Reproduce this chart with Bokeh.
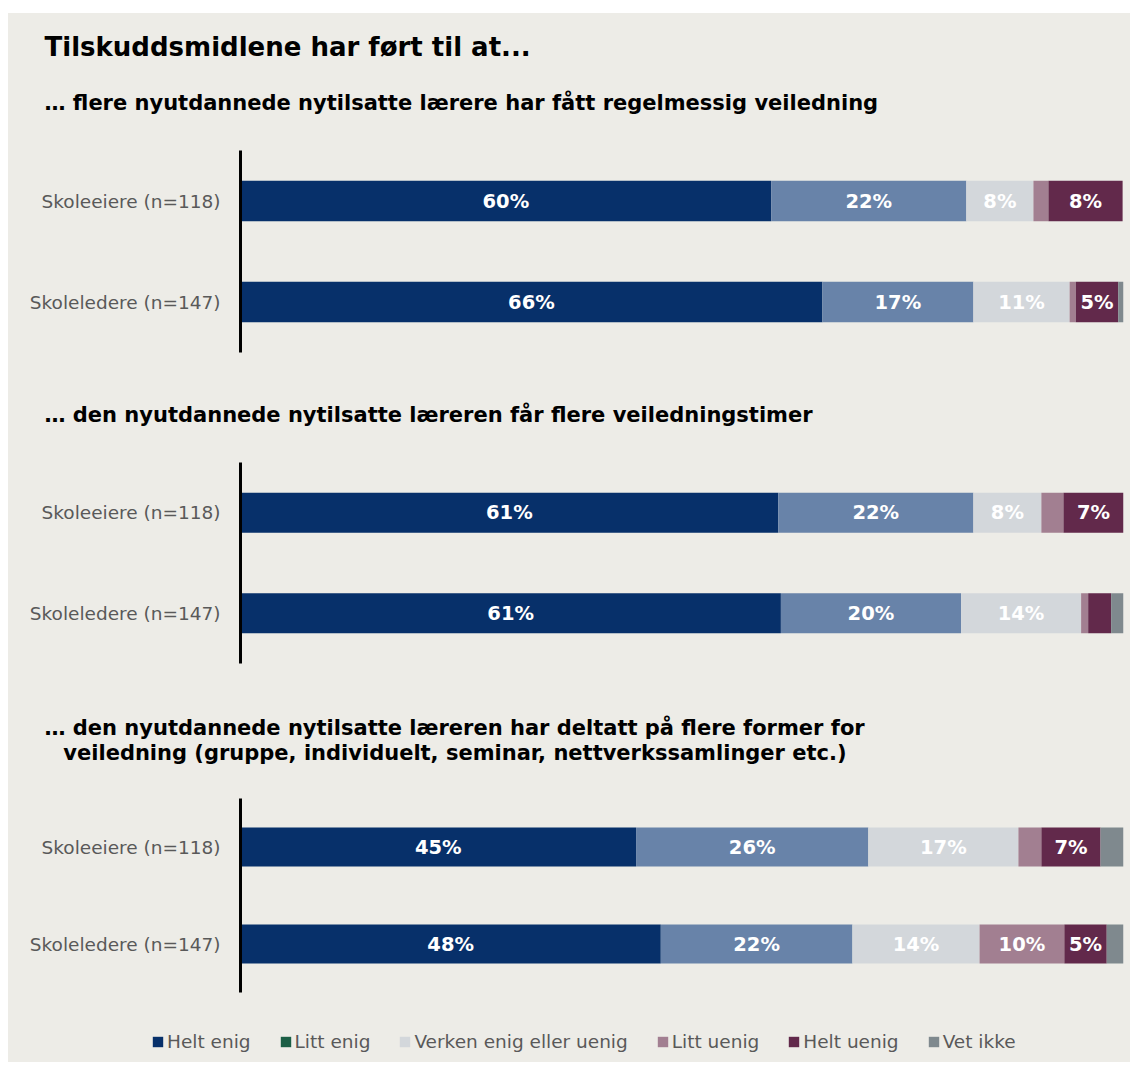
from bokeh.plotting import figure
from bokeh.models import (FactorRange, Range1d, ColumnDataSource, Title, Legend,
                          LegendItem, Spacer)
from bokeh.layouts import column, row
from bokeh.embed import file_html
from bokeh.resources import INLINE
from bokeh.core.properties import value

BG = "#EDECE7"
FONT = "DejaVu Sans"

main_title = "Tilskuddsmidlene har ført til at..."
headings = [
    "… flere nyutdannede nytilsatte lærere har fått regelmessig veiledning",
    "… den nyutdannede nytilsatte læreren får flere veiledningstimer",
    "… den nyutdannede nytilsatte læreren har deltatt på flere former for\n"
    "\u00a0\u00a0\u2009veiledning (gruppe, individuelt, seminar, nettverkssamlinger etc.)",
]
groups = ["Skoleeiere (n=118)", "Skoleledere (n=147)"]
categories = ["Helt enig", "Litt enig", "Verken enig eller uenig",
              "Litt uenig", "Helt uenig", "Vet ikke"]

# percentages per panel: [Skoleeiere, Skoleledere]
helt_enig = [[60.1, 65.9], [60.9, 61.2], [44.8, 47.6]]
litt_enig = [[22.1, 17.1], [22.1, 20.4], [26.3, 21.7]]
verken = [[7.6, 10.9], [7.7, 13.6], [17.0, 14.4]]
litt_uenig = [[1.7, 0.7], [2.5, 0.8], [2.6, 9.6]]
helt_uenig = [[8.4, 4.8], [6.8, 2.6], [6.7, 4.8]]
vet_ikke = [[0.0, 0.7], [0.0, 1.4], [2.6, 2.0]]
series = [helt_enig, litt_enig, verken, litt_uenig, helt_uenig, vet_ikke]
keys = ["helt_enig", "litt_enig", "verken", "litt_uenig", "helt_uenig", "vet_ikke"]

bar_colors = ["#07306A", "#6883A9", "#D3D7DB", "#A27F91", "#62294B", "#7F898E"]
legend_colors = ["#07306A", "#1B5E45", "#D3D7DB", "#A27F91", "#62294B", "#7F898E"]

W = 1122


def make_panel(i, height, top, bottom, title_specs):
    p = figure(width=W, height=height, title=None,
               y_range=FactorRange(factors=groups[::-1]), x_range=Range1d(0, 100),
               output_backend="svg", toolbar_location=None,
               min_border_left=232, min_border_right=7,
               min_border_top=top, min_border_bottom=bottom,
               background_fill_color=None, border_fill_color=None,
               outline_line_color=None)
    data = {"group": groups}
    for k, s in zip(keys, series):
        data[k] = s[i]
    p.hbar_stack(keys, y="group", height=0.4, color=bar_colors,
                 source=ColumnDataSource(data), line_color=None)

    xs, ys, texts = [], [], []
    for g_idx, g in enumerate(groups):
        left = 0.0
        for s in series:
            v = s[i][g_idx]
            if v >= 4:
                xs.append(left + v / 2)
                ys.append(g)
                texts.append(f"{round(v)}%")
            left += v
    p.text(x="x", y="y", text="t",
           source=ColumnDataSource(dict(x=xs, y=ys, t=texts)),
           text_color="white", text_font=value(FONT), text_font_style="bold",
           text_font_size="19.5px", text_align="center", text_baseline="middle")

    p.xaxis.visible = False
    p.xgrid.grid_line_color = None
    p.ygrid.grid_line_color = None
    ax = p.yaxis[0]
    ax.major_tick_line_color = None
    ax.minor_tick_line_color = None
    ax.axis_line_width = 3
    ax.axis_line_color = "black"
    ax.major_label_text_font = FONT
    ax.major_label_text_font_size = "18.5px"
    ax.major_label_text_color = "#595959"
    ax.major_label_standoff = 14

    for text, size, standoff, offset in title_specs:
        p.add_layout(Title(text=text, text_font=FONT, text_font_style="bold",
                           text_font_size=size, text_color="black", align="left",
                           offset=offset, standoff=standoff,
                           text_line_height=1.08), "above")
    return p


p1 = make_panel(0, 351, 137, 12,
                [(headings[0], "21px", 72, -196),
                 (main_title, "26px", -19, -196)])
p2 = make_panel(1, 316, 96, 17,
                [(headings[1], "21px", 72, -196)])
p3 = make_panel(2, 330, 118, 18,
                [(headings[2], "21px", 66, -196)])

# legend figure
pl = figure(width=W, height=52, title=None, x_range=Range1d(0, 1), y_range=Range1d(0, 1),
            output_backend="svg", toolbar_location=None,
            min_border_left=0, min_border_right=0, min_border_top=0, min_border_bottom=0,
            background_fill_color=None, border_fill_color=None, outline_line_color=None)
pl.xaxis.visible = False
pl.yaxis.visible = False
pl.xgrid.grid_line_color = None
pl.ygrid.grid_line_color = None
items = []
for name, col in zip(categories, legend_colors):
    # placeholder glyph outside the visible range, only used for the legend swatch
    r = pl.rect(x=[2], y=[2], width=0.1, height=0.1, fill_color=col, line_color=None)
    items.append(LegendItem(label=name, renderers=[r]))
leg = Legend(items=items, orientation="horizontal", location=(143, 10),
             glyph_width=13, glyph_height=13, label_standoff=3, spacing=28,
             padding=0, margin=0, border_line_color=None, background_fill_alpha=0,
             label_text_font=FONT, label_text_font_size="18.5px",
             label_text_color="#595959")
pl.add_layout(leg, "center")

inner = column(p1, p2, p3, row(pl, spacing=0), spacing=0,
               styles={"background-color": BG})
layout = column(Spacer(width=1130, height=13),
                row(Spacer(width=8, height=1049), inner, spacing=0), spacing=0)
open("out.html", "w").write(file_html(layout, INLINE))
